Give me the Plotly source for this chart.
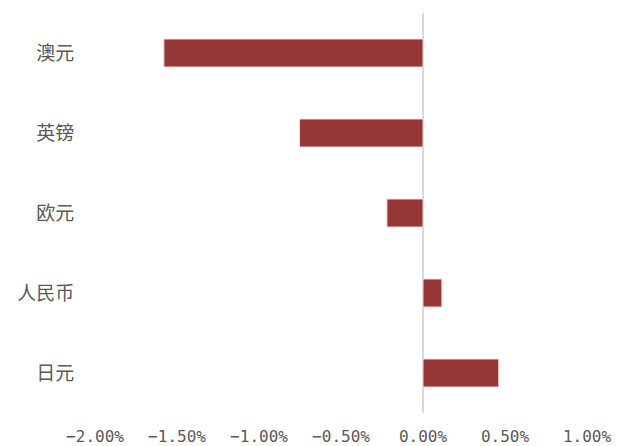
import plotly.graph_objects as go

categories = ["澳元", "英镑", "欧元", "人民币", "日元"]
values = [-1.58, -0.753, -0.22, 0.115, 0.462]
tick_vals = [-2.0, -1.5, -1.0, -0.5, 0.0, 0.5, 1.0]
tick_text = ["−2.00%", "−1.50%", "−1.00%", "−0.50%", "0.00%", "0.50%", "1.00%"]

fig = go.Figure(go.Bar(
    x=values, y=categories, orientation="h",
    marker=dict(color="#953735", line=dict(color="#f2dcdb", width=1)),
))

fig.update_layout(
    width=625, height=446,
    margin=dict(l=95, r=38, t=13, b=33),
    paper_bgcolor="white", plot_bgcolor="white",
    bargap=0.65, showlegend=False,
    xaxis=dict(range=[-2, 1], tickvals=tick_vals, ticktext=tick_text, automargin=False,
               showgrid=False, zeroline=True, zerolinecolor="#d9d9d9", zerolinewidth=2,
               tickfont=dict(family="DejaVu Sans Mono", size=16, color="#595959"),
               ticks="outside", ticklen=9, tickcolor="rgba(0,0,0,0)", showline=False),
    yaxis=dict(autorange="reversed", showgrid=False, zeroline=False, automargin=False,
               tickfont=dict(family="Noto Sans CJK SC", size=19, color="#595959"),
               ticks="outside", ticklen=16, tickcolor="rgba(0,0,0,0)", showline=False),
)

fig.write_html("out.html")
